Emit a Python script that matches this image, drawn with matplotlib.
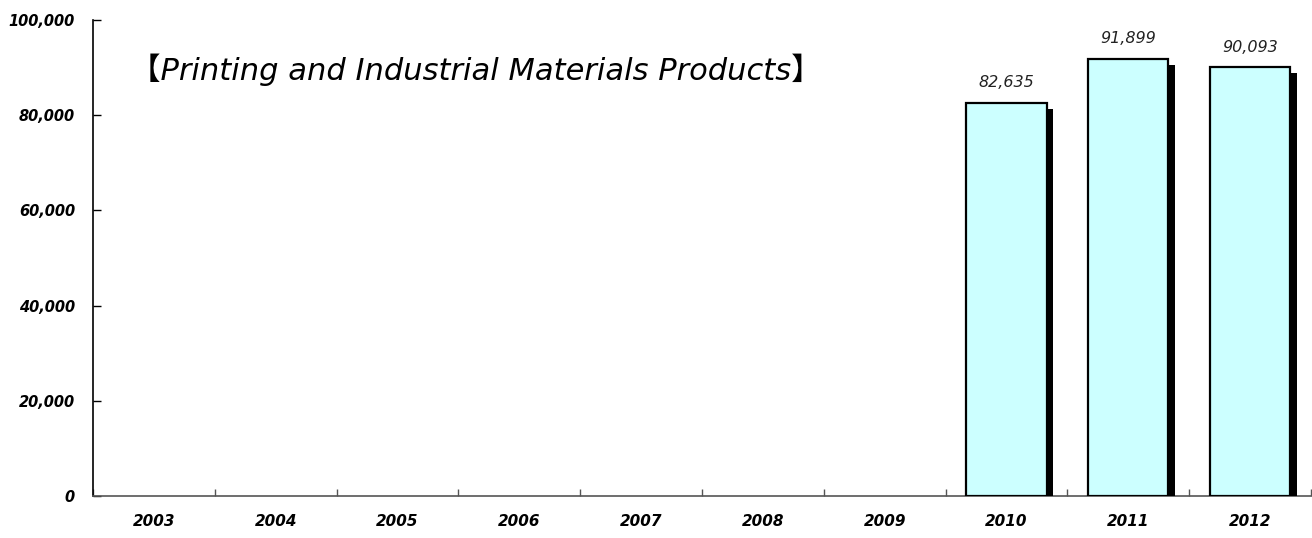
import numpy as np
import matplotlib.pyplot as plt
import matplotlib.patheffects as pe

# ==========================================
# DATA
# ==========================================

years = ["2003", "2004", "2005", "2006", "2007", "2008", "2009", "2010", "2011", "2012"]
sales = [np.nan, np.nan, np.nan, np.nan, np.nan, np.nan, np.nan, 82635, 91899, 90093]
y_ticks = [0, 20000, 40000, 60000, 80000, 100000]

title = "【Printing and Industrial Materials Products】"

# ==========================================
# FIGURE
# ==========================================

fig = plt.figure(figsize=(13.12, 5.38), dpi=100)
ax = fig.add_axes([93 / 1312, 1 - 496 / 538, 1218 / 1312, 476 / 538])

x = np.arange(len(years))

bars = ax.bar(
    x, sales,
    width=0.66,
    color="#ccffff",
    edgecolor="black",
    linewidth=1.6,
    zorder=3
)

for b in bars:
    b.set_path_effects([
        pe.SimplePatchShadow(offset=(4.5, -4.5), shadow_rgbFace="black", alpha=1.0),
        pe.Normal()
    ])

# value labels above the bars
for xi, v in zip(x, sales):
    if np.isnan(v):
        continue
    ax.annotate(
        f"{v:,.0f}",
        xy=(xi, v),
        xytext=(0, 9),
        textcoords="offset points",
        ha="center", va="bottom",
        fontsize=11.5, style="italic",
        color="#222222"
    )

# ==========================================
# AXES
# ==========================================

ax.set_xlim(-0.5, len(years) - 0.5)
ax.set_ylim(0, 100000)

ax.set_yticks(y_ticks)
ax.set_yticklabels([f"{t:,}" for t in y_ticks], fontsize=10.5,
                   fontweight="bold", style="italic")
ax.tick_params(axis="y", direction="in", length=6, width=1, pad=13)

ax.set_xticks(x)
ax.set_xticklabels(years, fontsize=11, fontweight="bold", style="italic")
ax.tick_params(axis="x", length=0, pad=13)
ax.set_xticks(np.arange(len(years) + 1) - 0.5, minor=True)
ax.tick_params(axis="x", which="minor", direction="in", length=5,
               width=1, color="#555555")

for side in ["top", "right"]:
    ax.spines[side].set_visible(False)
ax.spines["left"].set_linewidth(1.2)
ax.spines["bottom"].set_color("#555555")
ax.spines["bottom"].set_linewidth(1.2)

fig.text(
    130 / 1312, 1 - 70 / 538, title,
    family=["DejaVu Sans", "Noto Sans CJK JP"],
    fontsize=22, style="italic",
    ha="left", va="center"
)

plt.savefig("out.png", dpi=100)
